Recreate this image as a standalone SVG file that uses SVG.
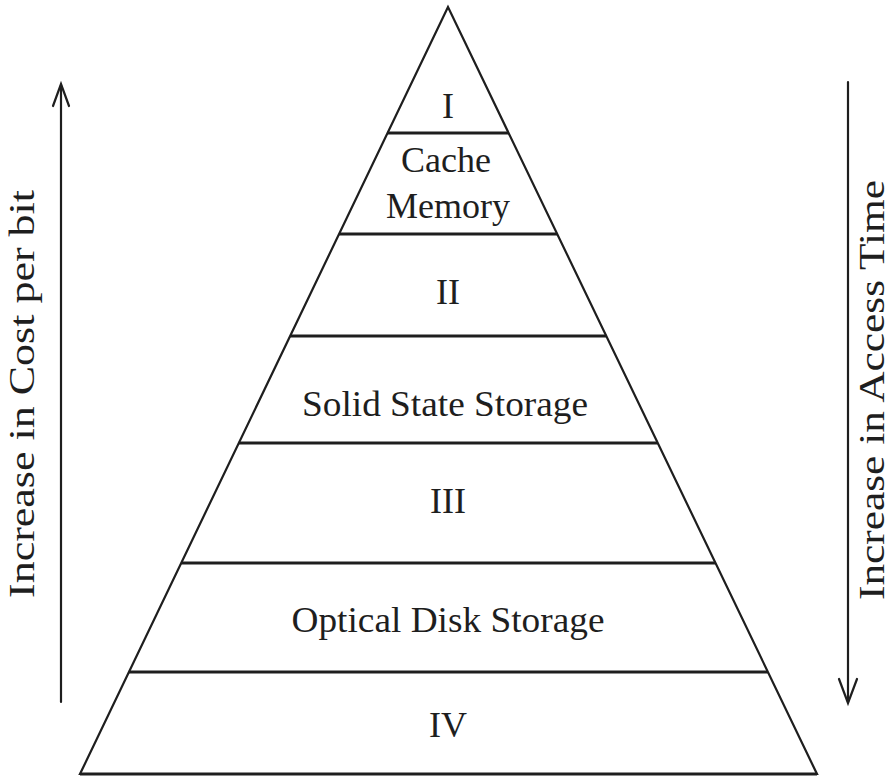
<svg xmlns="http://www.w3.org/2000/svg" width="893" height="778" viewBox="0 0 893 778">
<style>
.ln{stroke:#1e1e1e;stroke-width:2.2;fill:none;stroke-linecap:round;stroke-linejoin:miter}
.hl{stroke:#1e1e1e;stroke-width:3;fill:none}
.t{font-family:"Liberation Serif","Times New Roman",serif;font-size:36px;fill:#1e1e1e;text-anchor:middle}
.s{font-family:"Liberation Serif","Times New Roman",serif;font-size:36px;fill:#1e1e1e;text-anchor:middle}
</style>
<rect width="893" height="778" fill="#ffffff"/>
<g id="pyramid">
<polygon class="ln" points="448,7 80,774 817,774"/>
<line class="hl" x1="387.5" y1="133" x2="508.6" y2="133"/>
<line class="hl" x1="339.1" y1="234" x2="557.2" y2="234"/>
<line class="hl" x1="290.1" y1="336" x2="606.3" y2="336"/>
<line class="hl" x1="238.8" y1="443" x2="657.8" y2="443"/>
<line class="hl" x1="181.2" y1="563" x2="715.5" y2="563"/>
<line class="hl" x1="128.9" y1="672" x2="767.9" y2="672"/>
<line class="hl" x1="80" y1="774" x2="817" y2="774"/>
</g>
<g id="tier-I"><text class="t" x="448" y="118">I</text></g>
<g id="tier-cache"><text class="t" x="446" y="172">Cache</text><text class="t" x="448" y="218">Memory</text></g>
<g id="tier-II"><text class="t" x="448" y="304">II</text></g>
<g id="tier-solid"><text class="t" x="445" y="416" textLength="286" lengthAdjust="spacingAndGlyphs">Solid State Storage</text></g>
<g id="tier-III"><text class="t" x="448" y="513">III</text></g>
<g id="tier-optical"><text class="t" x="448" y="632" textLength="313" lengthAdjust="spacingAndGlyphs">Optical Disk Storage</text></g>
<g id="tier-IV"><text class="t" x="448" y="737">IV</text></g>
<g id="connectors">
<line class="ln" x1="61" y1="702" x2="61" y2="85"/>
<polyline class="ln" points="53,106 61,84 69,106"/>
<line class="ln" x1="848" y1="82" x2="848" y2="702"/>
<polyline class="ln" points="839,679 848,703 857,679"/>
</g>
<g id="label-cost"><text class="s" transform="translate(34,394) rotate(-90)" textLength="408" lengthAdjust="spacingAndGlyphs">Increase in Cost per bit</text></g>
<g id="label-time"><text class="s" transform="translate(884,390) rotate(-90)" textLength="420" lengthAdjust="spacingAndGlyphs">Increase in Access Time</text></g>
</svg>
